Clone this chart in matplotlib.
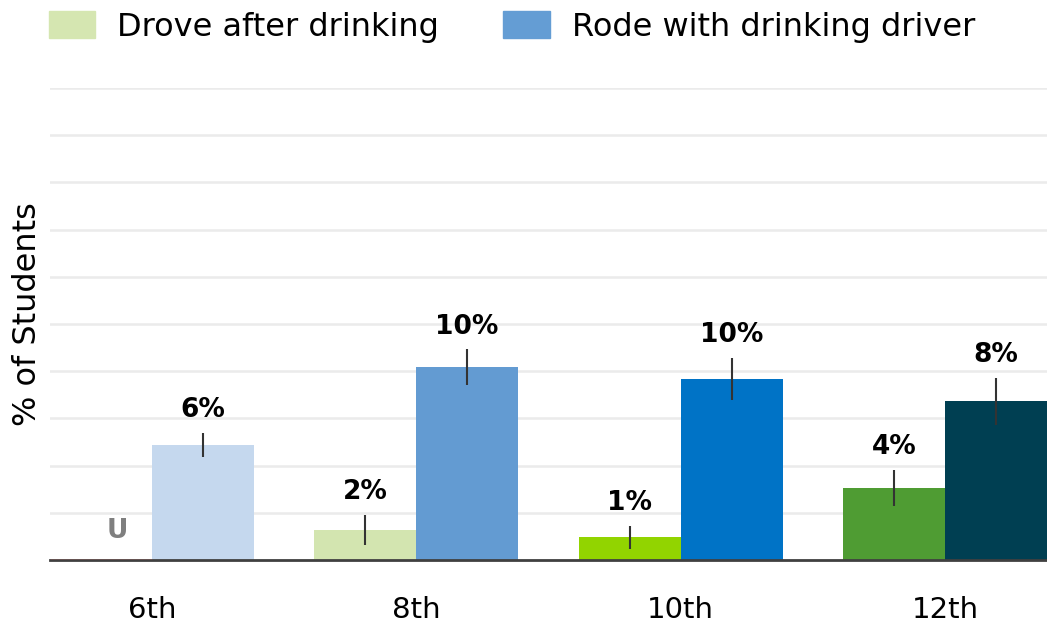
import numpy as np
import matplotlib.pyplot as plt
from matplotlib.patches import Patch

grades = ['6th', '8th', '10th', '12th']
drove = [0, 1.6, 1.2, 3.8]
drove_err = [0, 0.8, 0.6, 0.95]
rode = [6.1, 10.2, 9.6, 8.4]
rode_err = [0.65, 0.95, 1.1, 1.25]
drove_labels = ['U', '2%', '1%', '4%']
rode_labels = ['6%', '10%', '10%', '8%']

drove_colors = ['#c0504d', '#d3e5b0', '#92d400', '#4f9c33']
rode_colors = ['#c5d8ee', '#639bd2', '#0073c6', '#003f52']

fig = plt.figure(figsize=(10.47, 6.26), dpi=100)
ax = fig.add_axes([50 / 1047, 66 / 626, 997 / 1047, 472 / 626])

x = np.arange(len(grades))
w = 0.385

b1 = ax.bar(x - w / 2, drove, w, color=drove_colors, zorder=2)
b2 = ax.bar(x + w / 2, rode, w, color=rode_colors, zorder=2)
# zero-height bar for 6th only shows as a thin line
b1[0].set_edgecolor('#b5534f')
b1[0].set_linewidth(1.0)
b1[0].set_zorder(5)

for i in range(1, len(grades)):
    ax.errorbar(x[i] - w / 2, drove[i], yerr=drove_err[i], fmt='none',
                ecolor='#333333', elinewidth=1.5, capsize=0, zorder=3)
for i in range(len(grades)):
    ax.errorbar(x[i] + w / 2, rode[i], yerr=rode_err[i], fmt='none',
                ecolor='#333333', elinewidth=1.5, capsize=0, zorder=3)

for i in range(len(grades)):
    if drove_labels[i] == 'U':
        ax.annotate('U', (x[i] - w / 2, 0), xytext=(12, 16), textcoords='offset points',
                    ha='center', va='baseline', fontsize=19, fontweight='bold', color='#7f7f7f')
    else:
        ax.annotate(drove_labels[i], (x[i] - w / 2, drove[i] + drove_err[i]), xytext=(0, 11.5),
                    textcoords='offset points', ha='center', va='baseline',
                    fontsize=19, fontweight='bold', color='black')
    ax.annotate(rode_labels[i], (x[i] + w / 2, rode[i] + rode_err[i]), xytext=(0, 11.5),
                textcoords='offset points', ha='center', va='baseline',
                fontsize=19, fontweight='bold', color='black')

ax.set_xlim(-0.385, 3.385)
ax.set_ylim(0, 25)
ax.set_yticks(np.arange(0, 25.1, 2.5))
ax.set_yticklabels([])
ax.tick_params(axis='y', length=0)
ax.grid(axis='y', color='#ebebeb', linewidth=1.8, zorder=0)
ax.set_axisbelow(True)

ax.set_xticks(x)
ax.set_xticklabels(grades, fontsize=21)
ax.tick_params(axis='x', length=0, pad=26)

for s in ['top', 'right', 'left']:
    ax.spines[s].set_visible(False)
ax.spines['bottom'].set_color('#404040')
ax.spines['bottom'].set_linewidth(2)
ax.spines['bottom'].set_zorder(4)

ax.set_ylabel('% of Students', fontsize=23)
ax.yaxis.set_label_coords(-0.007, 0.52)

handles = [Patch(color='#d5e6b1'), Patch(color='#649dd4')]
fig.legend(handles, ['Drove after drinking', 'Rode with drinking driver'],
           loc='upper left', bbox_to_anchor=(44 / 1047, 1 - 6 / 626), ncol=2, frameon=False,
           fontsize=23, handlelength=1.45, handleheight=0.95, handletextpad=0.7,
           columnspacing=2.0, borderaxespad=0.0, borderpad=0.15)

fig.savefig('out.png', dpi=100)
